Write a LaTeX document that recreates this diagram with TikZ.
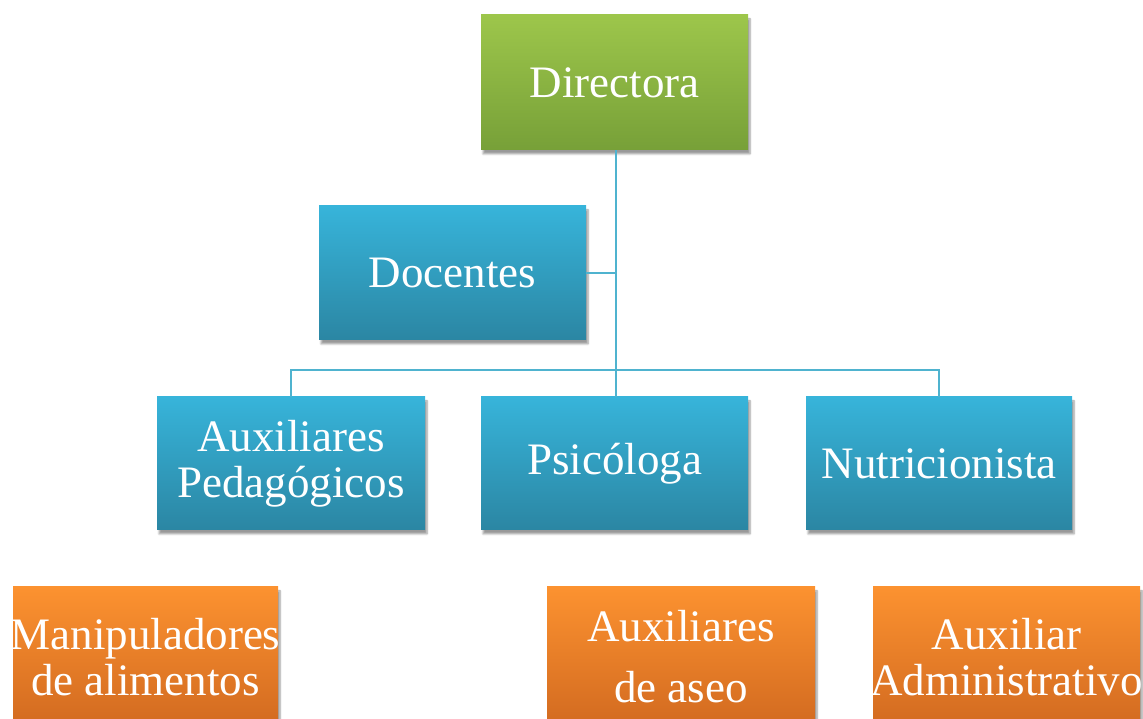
\documentclass[tikz,border=0pt]{standalone}
\usepackage{fontspec}
\setmainfont{Liberation Serif}
\usetikzlibrary{shadings,shadows.blur}
\definecolor{gtop}{HTML}{9DC64B}
\definecolor{gbot}{HTML}{77A038}
\definecolor{btop}{HTML}{37B4DA}
\definecolor{bbot}{HTML}{2B86A3}
\definecolor{otop}{HTML}{FC9230}
\definecolor{obot}{HTML}{D26A20}
\definecolor{conn}{HTML}{4FB3CF}
\newcommand{\fitline}[1]{\makebox[0pt][c]{#1}}
\begin{document}
\begin{tikzpicture}[x=1pt,y=1pt,
  box/.style={rectangle, inner sep=0pt, align=center, text=white,
    font=\fontsize{45}{46}\selectfont,
    blur shadow={shadow xshift=2pt, shadow yshift=-4pt, shadow blur steps=6, shadow opacity=40}},
  green/.style={box, top color=gtop, bottom color=gbot},
  blue/.style={box, top color=btop, bottom color=bbot},
  orange/.style={box, top color=otop, bottom color=obot},
  link/.style={draw=conn, line width=1.8pt}]
\useasboundingbox (0,0) rectangle (1143,719);
\node[green, minimum width=267, minimum height=135] (dir) at (614.5,636.5) {Directora};
\node[blue, minimum width=267, minimum height=134] (doc) at (452.5,446) {Docentes};
\node[blue, minimum width=268, minimum height=133] (aux) at (291,255.5) {Auxiliares\\Pedagógicos};
\node[blue, minimum width=267, minimum height=133] (psi) at (614.5,255.5) {\raisebox{-4pt}{Psicóloga}};
\node[blue, minimum width=266, minimum height=133] (nut) at (939,255.5) {Nutricionista};
\node[orange, minimum width=265, minimum height=140] (man) at (145.5,62) {\fitline{Manipuladores}\\\fitline{de alimentos}};
\node[orange, minimum width=268, minimum height=140] (ase) at (681,62) {\raisebox{3pt}{Auxiliares}\\[12pt]de aseo};
\node[orange, minimum width=267, minimum height=140] (adm) at (1006.5,62) {\fitline{Auxiliar}\\\fitline{Administrativo}};
\coordinate (bus) at (616,349);
\draw[link] (dir.south -| bus) -- (bus);
\draw[link] (doc.east) -- (doc.east -| bus);
\draw[link] (aux.north) |- (bus) -| (nut.north);
\draw[link] (bus) -- (psi.north -| bus);
\end{tikzpicture}
\end{document}
